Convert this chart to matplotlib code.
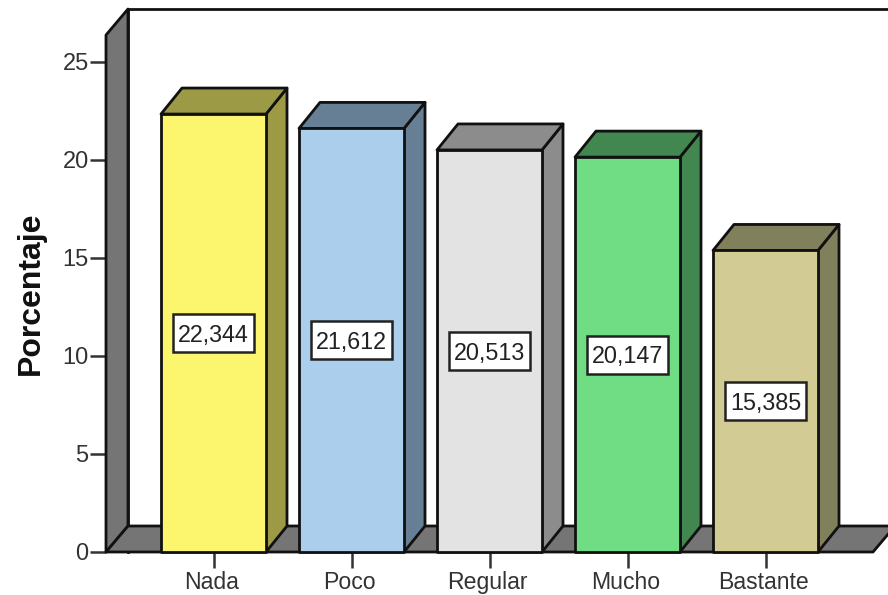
import matplotlib
matplotlib.use('Agg')
import matplotlib.pyplot as plt
from matplotlib.patches import Polygon, Rectangle
from matplotlib.transforms import ScaledTranslation

categories = ['Nada', 'Poco', 'Regular', 'Mucho', 'Bastante']
values = [22.344, 21.612, 20.513, 20.147, 15.385]
value_labels = ['22,344', '21,612', '20,513', '20,147', '15,385']
y_ticks = [0, 5, 10, 15, 20, 25]
front_colors = ['#FBF66E', '#ABCEEC', '#E3E3E3', '#70DD85', '#D2CC94']
side_colors = ['#9C9A45', '#667F95', '#8C8C8C', '#438750', '#80805C']
wall_color = '#757575'
text_color = '#333333'

W, H = 888, 595
# pixel layout of the chart frame
left, right, bottom, top = 106, 888, 552, 35
px_per_unit_x = 138
px_per_unit_y = 19.6

plt.rcParams['font.family'] = ['Liberation Sans', 'DejaVu Sans']

fig = plt.figure(figsize=(W / 100, H / 100), dpi=100)
ax = fig.add_axes([left / W, (H - bottom) / H, (right - left) / W, (bottom - top) / H])
ax.set_xlim((left - 213.5) / px_per_unit_x, (right - 213.5) / px_per_unit_x)
ax.set_ylim(0, (bottom - top) / px_per_unit_y)
ax.patch.set_visible(False)
for s in ax.spines.values():
    s.set_visible(False)

dx = 22 / px_per_unit_x
dy = 26 / px_per_unit_y
bar_dx = 21 / px_per_unit_x
bar_w = 105 / px_per_unit_x
box_w = 81 / px_per_unit_x
box_h = 38 / px_per_unit_y
x0, x1 = ax.get_xlim()
ytop = ax.get_ylim()[1]
floor_end = (873 - 213.5) / px_per_unit_x


def poly(pts, color, z):
    ax.add_patch(Polygon(pts, closed=True, facecolor=color, edgecolor='#111111',
                         linewidth=2, joinstyle='round', clip_on=False, zorder=z))


# back wall outline, left wall and floor
ax.plot([x0 + dx, x0 + dx, x1 + 0.1], [0, ytop + dy, ytop + dy], color='#111111',
        linewidth=2, clip_on=False, zorder=1)
poly([(x0, 0), (x0 + dx, dy), (x0 + dx, ytop + dy), (x0, ytop)], wall_color, 2)
poly([(x0, 0), (floor_end, 0), (floor_end + dx, dy), (x0 + dx, dy)], wall_color, 2)

# bars
for i, v in enumerate(values):
    xl = i - bar_w / 2
    xr = i + bar_w / 2
    poly([(xr, 0), (xr + bar_dx, dy), (xr + bar_dx, v + dy), (xr, v)], side_colors[i], 3)
    poly([(xl, v), (xr, v), (xr + bar_dx, v + dy), (xl + bar_dx, v + dy)], side_colors[i], 3)
    poly([(xl, 0), (xr, 0), (xr, v), (xl, v)], front_colors[i], 4)
    ax.add_patch(Rectangle((i - box_w / 2, v / 2 - box_h / 2), box_w, box_h, facecolor='white',
                           edgecolor='#222222', linewidth=1.8, zorder=5))
    ax.annotate(value_labels[i], (i, v / 2), xytext=(0, -1.5), textcoords='offset points',
                ha='center', va='center', fontsize=16.8, color='#222222', zorder=6)

ax.set_xticks(range(len(categories)))
ax.set_xticklabels(categories)
ax.set_yticks(y_ticks)
ax.tick_params(axis='both', length=11.5, width=1.8, color='#333333', labelcolor=text_color)
ax.tick_params(axis='x', labelsize=16.6, pad=2)
ax.tick_params(axis='y', labelsize=17, pad=1)
ax.set_ylabel('Porcentaje', fontsize=23, fontweight='bold', color='#111111', labelpad=12)

# x labels sit slightly left of their ticks
shift = ScaledTranslation(-2 / 100, 0, fig.dpi_scale_trans)
for label in ax.get_xticklabels():
    label.set_transform(label.get_transform() + shift)

fig.savefig('out.png', dpi=100)
